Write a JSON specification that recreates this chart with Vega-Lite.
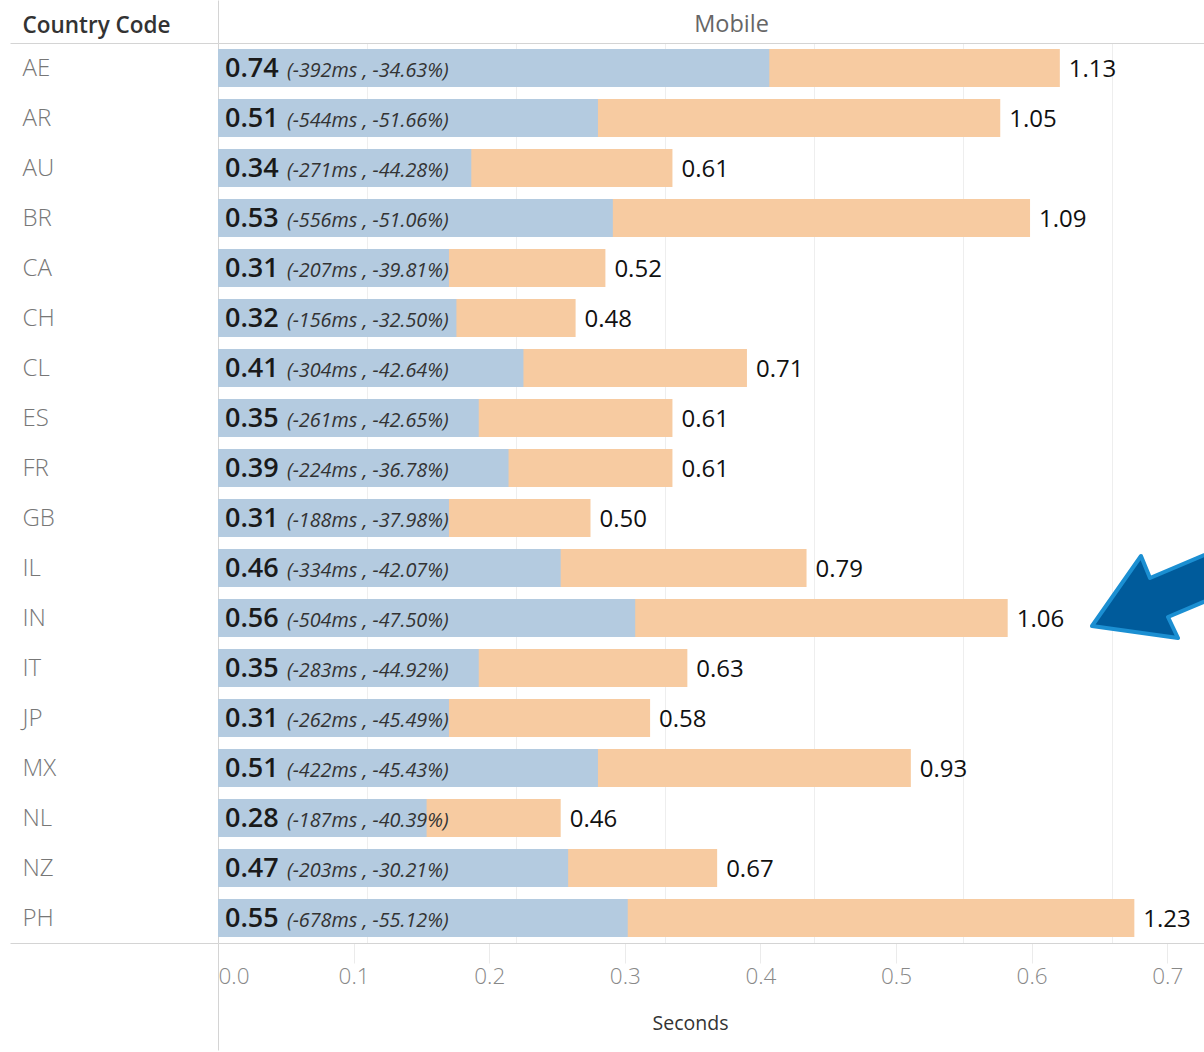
{
  "$schema": "https://vega.github.io/schema/vega-lite/v6.json",
  "width": 986,
  "height": 900,
  "autosize": "none",
  "padding": {"left": 218, "top": 43, "right": 0, "bottom": 109},
  "background": "white",
  "config": {"view": {"stroke": null}, "font": "Open Sans"},
  "data": {
    "values": [
      {"code": "AE", "fast": 0.74, "slow": 1.13, "change": "(-392ms , -34.63%)"},
      {"code": "AR", "fast": 0.51, "slow": 1.05, "change": "(-544ms , -51.66%)"},
      {"code": "AU", "fast": 0.34, "slow": 0.61, "change": "(-271ms , -44.28%)"},
      {"code": "BR", "fast": 0.53, "slow": 1.09, "change": "(-556ms , -51.06%)"},
      {"code": "CA", "fast": 0.31, "slow": 0.52, "change": "(-207ms , -39.81%)"},
      {"code": "CH", "fast": 0.32, "slow": 0.48, "change": "(-156ms , -32.50%)"},
      {"code": "CL", "fast": 0.41, "slow": 0.71, "change": "(-304ms , -42.64%)"},
      {"code": "ES", "fast": 0.35, "slow": 0.61, "change": "(-261ms , -42.65%)"},
      {"code": "FR", "fast": 0.39, "slow": 0.61, "change": "(-224ms , -36.78%)"},
      {"code": "GB", "fast": 0.31, "slow": 0.50, "change": "(-188ms , -37.98%)"},
      {"code": "IL", "fast": 0.46, "slow": 0.79, "change": "(-334ms , -42.07%)"},
      {"code": "IN", "fast": 0.56, "slow": 1.06, "change": "(-504ms , -47.50%)"},
      {"code": "IT", "fast": 0.35, "slow": 0.63, "change": "(-283ms , -44.92%)"},
      {"code": "JP", "fast": 0.31, "slow": 0.58, "change": "(-262ms , -45.49%)"},
      {"code": "MX", "fast": 0.51, "slow": 0.93, "change": "(-422ms , -45.43%)"},
      {"code": "NL", "fast": 0.28, "slow": 0.46, "change": "(-187ms , -40.39%)"},
      {"code": "NZ", "fast": 0.47, "slow": 0.67, "change": "(-203ms , -30.21%)"},
      {"code": "PH", "fast": 0.55, "slow": 1.23, "change": "(-678ms , -55.12%)"}
    ]
  },
  "encoding": {
    "y": {
      "field": "code",
      "type": "nominal",
      "sort": null,
      "scale": {"paddingInner": 0, "paddingOuter": 0},
      "axis": {
        "title": "Country Code",
        "titleAngle": 0,
        "titleAlign": "left",
        "titleBaseline": "alphabetic",
        "titleX": -196,
        "titleY": -11,
        "titleFontSize": 22.5,
        "titleFontWeight": 600,
        "titleColor": "#333333",
        "labelAlign": "left",
        "labelBaseline": "middle",
        "labelFontSize": 24,
        "labelFontWeight": 300,
        "labelColor": "#777777",
        "labelPadding": -12,
        "domain": false,
        "grid": false,
        "ticks": true,
        "tickBand": "extent",
        "tickSize": 208,
        "tickColor": {"condition": {"test": "datum.extra || datum.value === 'PH'", "value": "#d4d4d4"}, "value": "rgba(0,0,0,0)"}
      }
    }
  },
  "layer": [
    {
      "encoding": {
        "x": {
          "field": "slow",
          "type": "quantitative",
          "scale": {"domain": [0, 1.3235], "nice": false, "zero": true},
          "axis": {
            "orient": "top",
            "values": [0, 0.2, 0.4, 0.6, 0.8, 1, 1.2],
            "labels": false,
            "domain": true,
            "domainColor": "#d4d4d4",
            "ticks": true,
            "tickSize": 43,
            "tickColor": {"condition": {"test": "datum.value === 0", "value": "#d4d4d4"}, "value": "rgba(0,0,0,0)"},
            "grid": true,
            "gridColor": {"condition": {"test": "datum.value === 0", "value": "#d4d4d4"}, "value": "#eeeeee"},
            "title": "Mobile",
            "titleX": 513,
            "titleY": -12,
            "titleAlign": "center",
            "titleBaseline": "alphabetic",
            "titleFontSize": 23.5,
            "titleFontWeight": "normal",
            "titleColor": "#666666"
          }
        }
      },
      "layer": [
        {"mark": {"type": "bar", "color": "#f7cba1", "size": 38}},
        {"mark": {"type": "bar", "color": "#b4cbe0", "size": 38}, "encoding": {"x": {"field": "fast", "type": "quantitative"}}},
        {
          "mark": {"type": "text", "align": "left", "baseline": "alphabetic", "dx": 9, "dy": 9, "fontSize": 24, "fontWeight": 500, "color": "#111111"},
          "encoding": {"text": {"field": "slow", "type": "quantitative", "format": ".2f"}}
        },
        {
          "transform": [{"filter": "datum.code === 'IN'"}],
          "mark": {
            "type": "point",
            "shape": "M0.843,0.08 L1.333,-0.62 L1.423,-0.40 L2.803,-0.985 L2.983,-0.595 L1.603,-0.01 L1.703,0.20 Z",
            "size": 40000,
            "filled": true,
            "fill": "#005b9b",
            "stroke": "#1b8fd2",
            "strokeWidth": 4,
            "strokeJoin": "round",
            "opacity": 1
          }
        }
      ]
    },
    {
      "encoding": {
        "x": {
          "datum": 0,
          "type": "quantitative",
          "scale": {"domain": [0, 0.7271], "nice": false},
          "axis": {
            "orient": "bottom",
            "values": [0, 0.1, 0.2, 0.3, 0.4, 0.5, 0.6, 0.7],
            "format": ".1f",
            "grid": false,
            "domain": true,
            "domainColor": "#d4d4d4",
            "ticks": true,
            "tickSize": {"condition": {"test": "datum.value === 0", "value": 107}, "value": 20},
            "tickColor": {"condition": {"test": "datum.value === 0", "value": "#d4d4d4"}, "value": "#ebebeb"},
            "labelPadding": {"condition": {"test": "datum.value === 0", "value": -85}, "value": 2},
            "labelAlign": {"condition": {"test": "datum.value === 0", "value": "left"}, "value": "center"},
            "labelFontSize": 22.5,
            "labelFontWeight": 300,
            "labelColor": "#888888",
            "title": "Seconds",
            "titleX": 472,
            "titleY": 86,
            "titleAlign": "center",
            "titleBaseline": "alphabetic",
            "titleFontSize": 19.5,
            "titleFontWeight": "normal",
            "titleColor": "#333333"
          }
        }
      },
      "layer": [
        {
          "mark": {"type": "text", "align": "left", "baseline": "alphabetic", "dx": 7, "dy": 9, "fontSize": 27, "fontWeight": 600, "color": "#1a1a1a"},
          "encoding": {"text": {"field": "fast", "type": "quantitative", "format": ".2f"}}
        },
        {
          "mark": {"type": "text", "align": "left", "baseline": "alphabetic", "dx": 69, "dy": 9, "fontSize": 19.8, "fontStyle": "italic", "color": "#333333"},
          "encoding": {"text": {"field": "change"}}
        }
      ]
    }
  ],
  "resolve": {"scale": {"x": "independent"}, "axis": {"x": "independent"}}
}
